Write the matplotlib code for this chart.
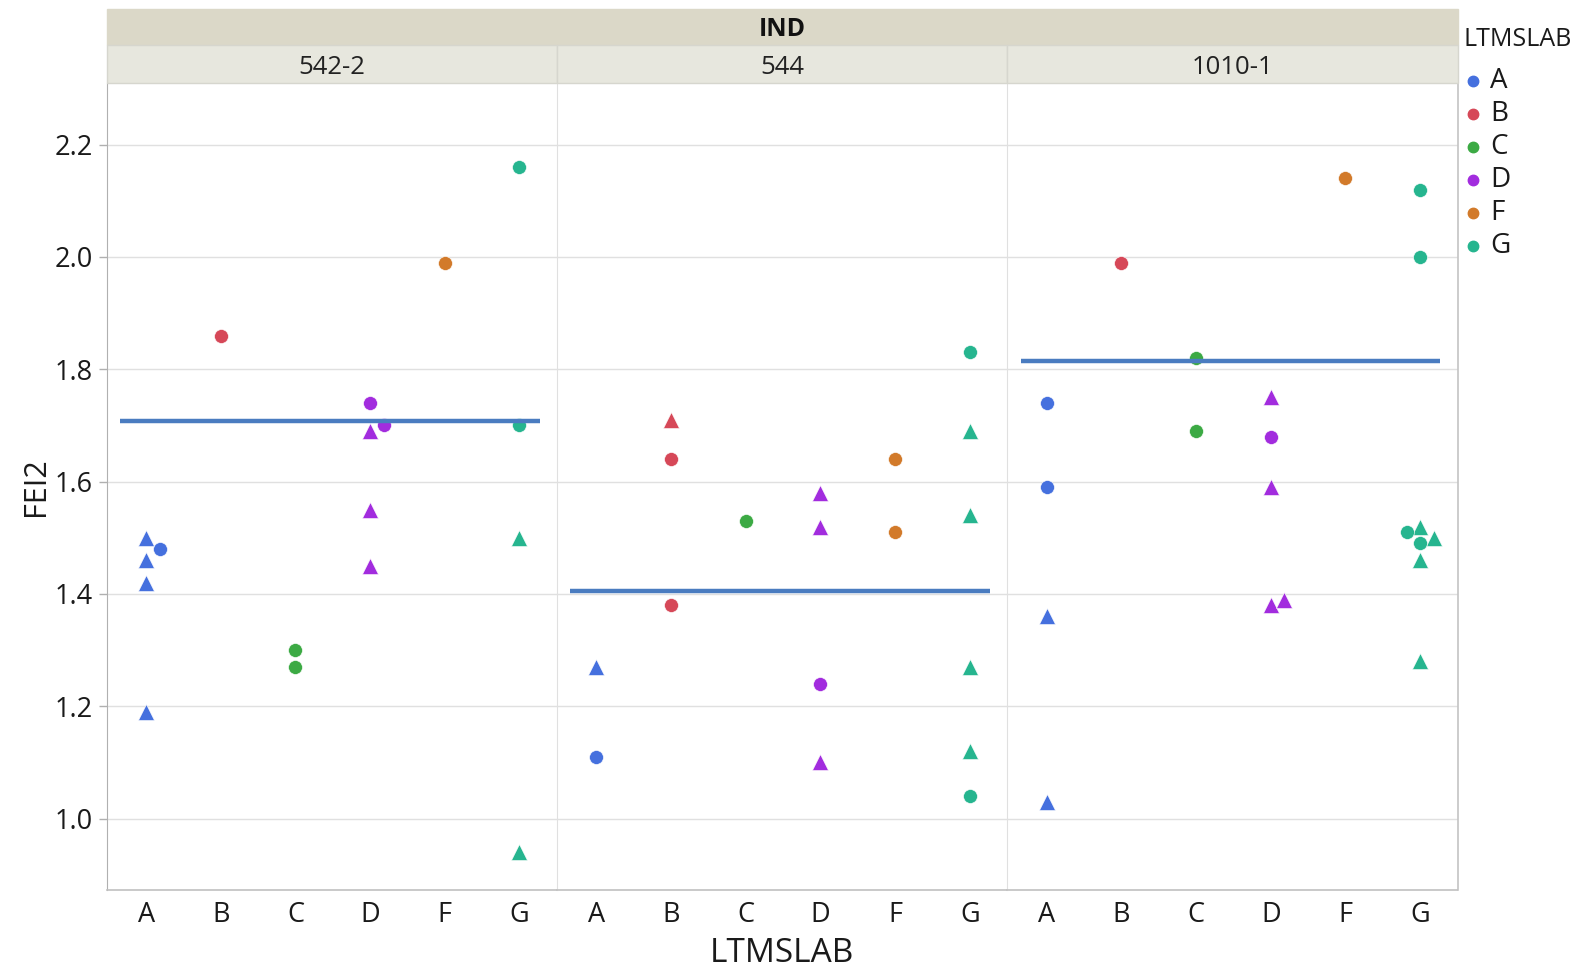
import matplotlib.pyplot as plt
from matplotlib.lines import Line2D
from matplotlib.patches import Rectangle

plt.rcParams['font.family'] = ['Open Sans', 'DejaVu Sans']

# FEI2 by LTMSLAB, split by IND
panels = ['542-2', '544', '1010-1']
labs = ['A', 'B', 'C', 'D', 'F', 'G']

ind = (['542-2'] * 18) + (['544'] * 18) + (['1010-1'] * 22)
lab = (['A'] * 5 + ['B'] + ['C'] * 2 + ['D'] * 5 + ['F'] + ['G'] * 4
       + ['A'] * 2 + ['B'] * 3 + ['C'] + ['D'] * 4 + ['F'] * 2 + ['G'] * 6
       + ['A'] * 4 + ['B'] + ['C'] * 2 + ['D'] * 5 + ['F'] + ['G'] * 8)
kind = ([1, 1, 1, 1, 0] + [0] + [0, 0] + [0, 1, 1, 1, 0] + [0] + [0, 0, 1, 1]
        + [1, 0] + [1, 0, 0] + [0] + [1, 1, 0, 1] + [0, 0] + [0, 1, 1, 1, 1, 0]
        + [0, 0, 1, 1] + [0] + [0, 0] + [1, 0, 1, 1, 1] + [0] + [0, 0, 1, 1, 0, 0, 1, 1])
fei2 = ([1.50, 1.46, 1.42, 1.19, 1.48] + [1.86] + [1.30, 1.27]
        + [1.74, 1.69, 1.55, 1.45, 1.70] + [1.99] + [2.16, 1.70, 1.50, 0.94]
        + [1.27, 1.11] + [1.71, 1.64, 1.38] + [1.53] + [1.58, 1.52, 1.24, 1.10]
        + [1.64, 1.51] + [1.83, 1.69, 1.54, 1.27, 1.12, 1.04]
        + [1.74, 1.59, 1.36, 1.03] + [1.99] + [1.82, 1.69]
        + [1.75, 1.68, 1.59, 1.38, 1.39] + [2.14]
        + [2.12, 2.00, 1.52, 1.50, 1.51, 1.49, 1.46, 1.28])
mean_fei2 = [1.708, 1.406, 1.814]

lab_colors = {'A': '#4570DE', 'B': '#D64858', 'C': '#3CAA44', 'D': '#A22CDE',
              'F': '#D27A2A', 'G': '#26B58F'}
kind_marker = {0: 'o', 1: '^'}

W, H = 1575, 971
fig = plt.figure(figsize=(W / 100, H / 100), dpi=100)

left, right, top, bottom = 106.5, 1457.5, 83.4, 890
pw = (right - left) / 3


def fx(px):
    return px / W


def fy(py):
    return 1 - py / H


# strips
fig.patches.append(Rectangle((fx(left), fy(45.2)), fx(right - left), (45.2 - 9) / H,
                             transform=fig.transFigure, color='#DBD8C8', zorder=0))
fig.text(fx((left + right) / 2), fy(29.5), 'IND', ha='center', va='center',
         fontsize=18, fontweight='bold', color='#111111')
for i, name in enumerate(panels):
    x0 = left + i * pw
    fig.patches.append(Rectangle((fx(x0), fy(83.4)), fx(pw), (83.4 - 45.2) / H,
                                 transform=fig.transFigure, facecolor='#E7E7DE',
                                 edgecolor='#D6D6CE', lw=1, zorder=0))
    fig.text(fx(x0 + pw / 2), fy(67.5), name, ha='center', va='center',
             fontsize=18.5, color='#222222')

dodge = 0.18
tol = 0.025
axes = []
for i, name in enumerate(panels):
    ax = fig.add_axes([fx(left + i * pw), fy(bottom), fx(pw), (bottom - top) / H])
    axes.append(ax)
    ax.set_xlim(-0.53, 5.5)
    ax.set_ylim(0.873, 2.309)
    ax.set_yticks([1.0, 1.2, 1.4, 1.6, 1.8, 2.0, 2.2])
    ax.grid(axis='y', color='#E0E0E0', lw=1)
    ax.set_axisbelow(True)
    ax.set_xticks(range(len(labs)))
    ax.set_xticklabels(labs)
    ax.tick_params(axis='x', length=0, pad=8, labelsize=19.5, labelcolor='#1a1a1a')
    if i == 0:
        ax.tick_params(axis='y', length=6, width=1, color='#B0B0B0', pad=4,
                       labelsize=19.5, labelcolor='#1a1a1a')
        ax.spines['left'].set_color('#B0B0B0')
    else:
        ax.tick_params(axis='y', left=False, labelleft=False)
        ax.spines['left'].set_color('#E0E0E0')
    ax.spines['top'].set_visible(False)
    ax.spines['bottom'].set_color('#C0C0C0')
    ax.spines['bottom'].set_linewidth(1.2)
    if i == 2:
        ax.spines['right'].set_color('#C4C4C4')
        ax.spines['right'].set_linewidth(1.2)
    else:
        ax.spines['right'].set_visible(False)

    # points, nudged sideways when they would sit on top of each other
    placed = {}
    for d, l, k, v in zip(ind, lab, kind, fei2):
        if d != name:
            continue
        xi = labs.index(l)
        spots = placed.setdefault(xi, [])
        for off in (0, dodge, -dodge, 2 * dodge, -2 * dodge):
            if all(abs(v - pv) >= tol or po != off for po, pv in spots):
                break
        spots.append((off, v))
        ms = 10 if k == 0 else 11.5
        ax.plot(xi + off, v, marker=kind_marker[k], ms=ms, color=lab_colors[l],
                mec='white', mew=0.4, ls='none', zorder=3)

    ax.hlines(mean_fei2[i], -0.35, 5.27, color='#4A7CC0', lw=3.2, zorder=4)

fig.text(fx(36), fy(487), 'FEI2', rotation=90, ha='center', va='center',
         fontsize=22, color='#1a1a1a')
fig.text(fx((left + right) / 2), fy(953), 'LTMSLAB', ha='center', va='center',
         fontsize=24, color='#1a1a1a')

# legend
fig.text(fx(1464), fy(39.5), 'LTMSLAB', ha='left', va='center', fontsize=18,
         color='#1a1a1a')
for j, l in enumerate(labs):
    yy = fy(80.5 + j * 33.1)
    fig.add_artist(Line2D([fx(1472.5)], [yy], marker='o', ms=7.5, ls='none',
                          color=lab_colors[l], transform=fig.transFigure))
    fig.text(fx(1490), yy, l, ha='left', va='center', fontsize=20, color='#1a1a1a')

fig.savefig('out.png', dpi=100, facecolor='white')
